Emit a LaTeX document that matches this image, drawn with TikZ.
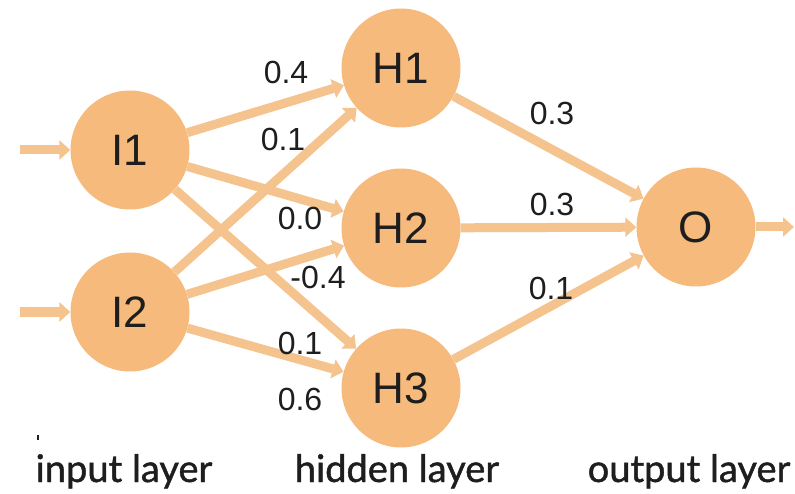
\documentclass[tikz,border=0pt]{standalone}
\usepackage{fontspec}
\setmainfont{Liberation Sans}
\newfontfamily\layerfont[FakeBold=1.2]{Lato}
\usetikzlibrary{arrows.meta}
\definecolor{nodefill}{HTML}{F5BA7C}
\definecolor{edgecol}{HTML}{F5C38D}
\definecolor{txt}{HTML}{1E1E1E}
\begin{document}
\begin{tikzpicture}[x=1pt,y=-1pt,
  neuron/.style={circle,fill=nodefill,draw=none,minimum size=119pt,inner sep=0pt,
    font=\fontsize{44}{44}\selectfont,text=txt},
  conn/.style={draw=edgecol,line width=9pt,-{Triangle[length=11pt,width=19pt]}},
  weight/.style={font=\fontsize{32}{32}\selectfont,text=txt,inner sep=0pt},
  layer/.style={font=\layerfont\fontsize{38}{38}\selectfont,text=txt,inner sep=0pt,anchor=base}]
\useasboundingbox (0,0) rectangle (795,494);
% neurons
\node[neuron] (I1) at (130,150) {I1};
\node[neuron] (I2) at (130,312) {I2};
\node[neuron] (H1) at (401,68) {H1};
\node[neuron] (H2) at (401,228) {H2};
\node[neuron] (H3) at (401,388) {H3};
\node[neuron] (O) at (696,227) {O};
% free ends
\coordinate (in1) at (20,150);
\coordinate (in2) at (20,312);
\coordinate (out) at (794,227);
% connectors
\draw[conn] (in1) -- (I1);
\draw[conn] (in2) -- (I2);
\draw[conn] (I1) -- (H1);
\draw[conn] (I1) -- (H2);
\draw[conn] (I1) -- (H3);
\draw[conn] (I2) -- (H1);
\draw[conn] (I2) -- (H2);
\draw[conn] (I2) -- (H3);
\draw[conn] (H1) -- (O);
\draw[conn] (H2) -- (O);
\draw[conn] (H3) -- (O);
\draw[conn] (O) -- (out);
% weights
\node[weight] (w11) at (286,72) {0.4};
\node[weight] (w21) at (283,139) {0.1};
\node[weight] (w12) at (300,218) {0.0};
\node[weight] (w22) at (318,277) {-0.4};
\node[weight] (w13) at (300,343) {0.1};
\node[weight] (w23) at (300,399) {0.6};
\node[weight] (v1) at (552,113) {0.3};
\node[weight] (v2) at (552,204) {0.3};
\node[weight] (v3) at (551,288) {0.1};
% layer labels
\node[layer] (Lin) at (124,482) {input layer};
\node[layer] (Lhid) at (397,482) {hidden layer};
\node[layer] (Lout) at (689,482) {output layer};
% small mark
\coordinate (m1) at (38,435);
\coordinate (m2) at (38,440);
\draw[txt,line width=1.5pt] (m1) -- (m2);
\end{tikzpicture}
\end{document}
